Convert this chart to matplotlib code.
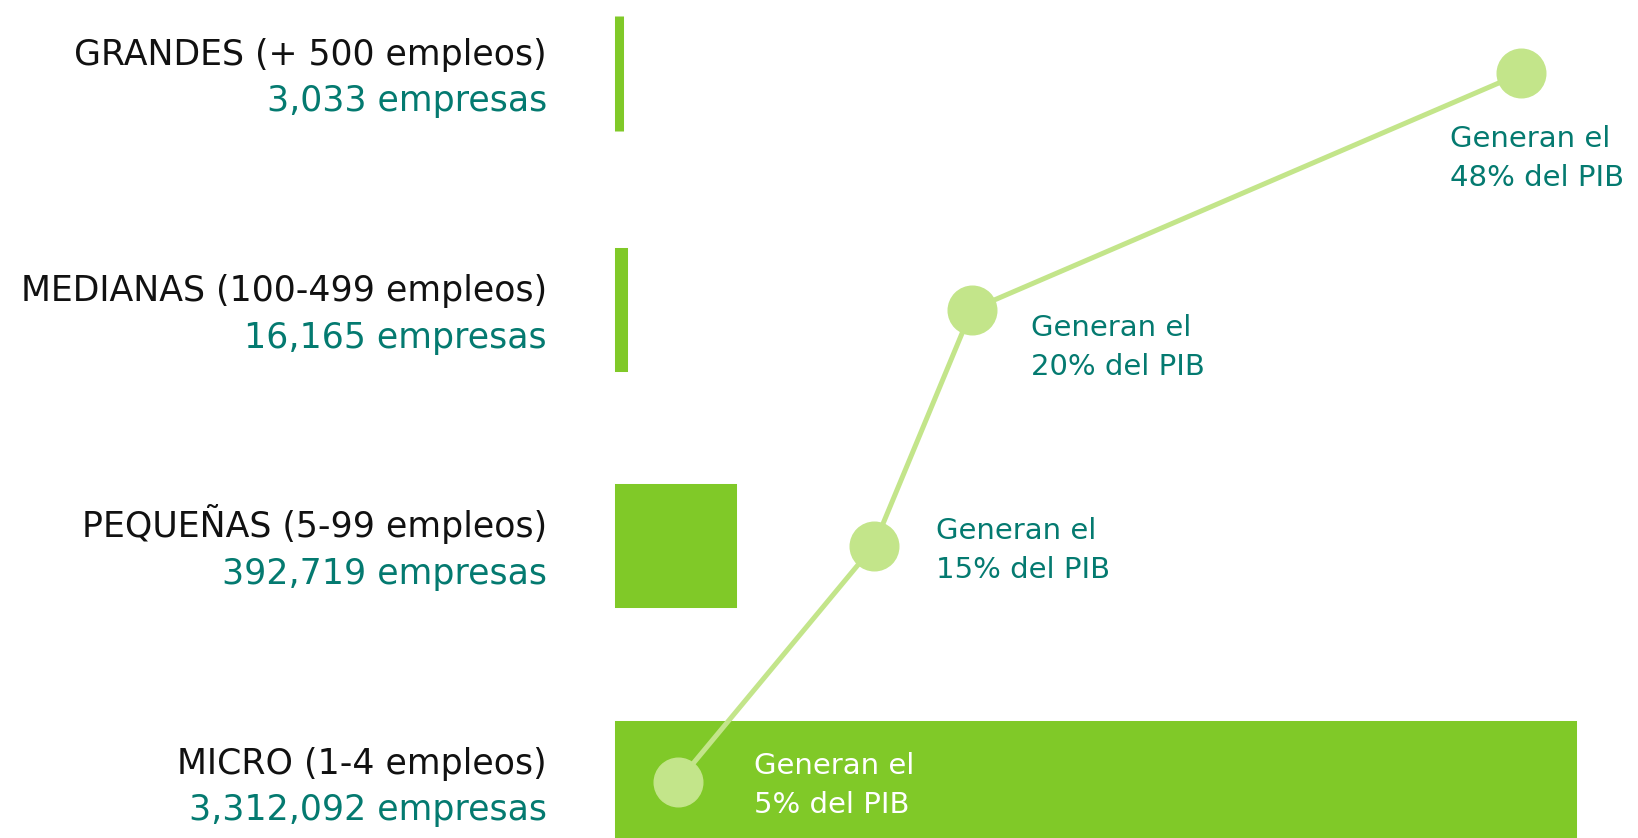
import matplotlib
matplotlib.use("Agg")
import matplotlib.pyplot as plt
import numpy as np

# data (bottom to top)
categorias = ["MICRO (1-4 empleos)", "PEQUEÑAS (5-99 empleos)",
              "MEDIANAS (100-499 empleos)", "GRANDES (+ 500 empleos)"]
empresas = np.array([3312092, 392719, 16165, 3033])
empresas_txt = ["3,312,092 empresas", "392,719 empresas",
                "16,165 empresas", "3,033 empresas"]
pib = np.array([5, 15, 20, 48])
pib_txt = ["Generan el\n5% del PIB", "Generan el\n15% del PIB",
           "Generan el\n20% del PIB", "Generan el\n48% del PIB"]

GREEN = "#80c928"
LINE = "#c3e58a"
TEAL = "#047a70"
DARK = "#111111"

plt.rcParams['font.family'] = ['DejaVu Sans']

W, H = 1638, 838
fig = plt.figure(figsize=(W / 100, H / 100), dpi=100)

left = 618.5
ax = fig.add_axes([left / W, 0, (W - left) / W, 1])
ypos = np.arange(len(categorias))
ax.barh(ypos, empresas, height=0.487, color=GREEN, edgecolor=GREEN,
        linewidth=6.5, zorder=2, clip_on=False)
ax.set_xlim(0, empresas.max() * 1.0687)
ax.set_ylim(-0.237, 3.311)
ax.axis('off')

for y, cat, n in zip(ypos, categorias, empresas_txt):
    ax.annotate(cat, xy=(0, y), xytext=(-71.5, 8.5), textcoords='offset pixels',
                ha='right', va='baseline', fontsize=25, color=DARK,
                annotation_clip=False)
    ax.annotate(n, xy=(0, y), xytext=(-71.5, -38), textcoords='offset pixels',
                ha='right', va='baseline', fontsize=25, color=TEAL,
                annotation_clip=False)

# PIB line on its own x scale
ax2 = ax.twiny()
ax2.set_xlim(1.98, 53.97)
ax2.plot(pib, ypos, color=LINE, lw=3.6, marker='o', ms=35, zorder=3)
ax2.axis('off')

offsets = [(76, 8), (62, 7), (59, -26), (-71, -73.5)]
colores = ["white", TEAL, TEAL, TEAL]
for x, y, txt, (dx, dy), c in zip(pib, ypos, pib_txt, offsets, colores):
    l1, l2 = txt.split("\n")
    ax2.annotate(l1, xy=(x, y), xytext=(dx, dy), textcoords='offset pixels',
                 ha='left', va='baseline', fontsize=21, color=c,
                 annotation_clip=False)
    ax2.annotate(l2, xy=(x, y), xytext=(dx, dy - 39), textcoords='offset pixels',
                 ha='left', va='baseline', fontsize=21, color=c,
                 annotation_clip=False)

fig.savefig("out.png", dpi=100)
